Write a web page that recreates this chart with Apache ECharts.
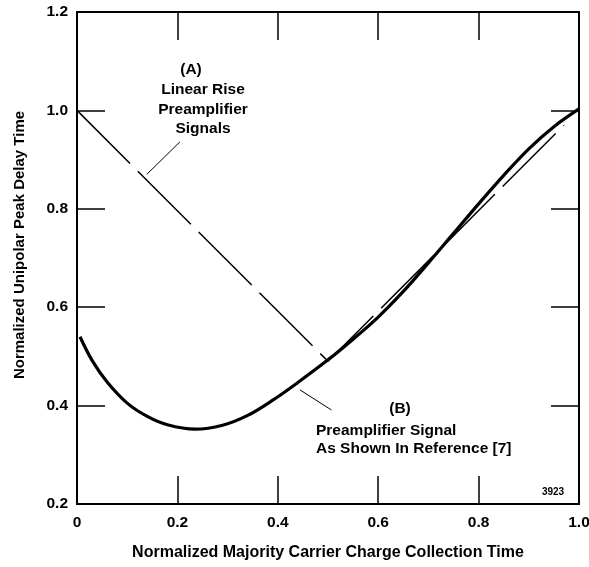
<!DOCTYPE html>
<html>
<head>
<meta charset="utf-8">
<script src="https://cdn.jsdelivr.net/npm/echarts@6/dist/echarts.min.js"></script>
<style>
  html, body { margin: 0; padding: 0; background: #fff; }
  #main { width: 589px; height: 567px; }
</style>
</head>
<body>
<div id="main"></div>
<script>
// tick values
var xTicks = [0, 0.2, 0.4, 0.6, 0.8, 1.0];
var yTicks = [0.2, 0.4, 0.6, 0.8, 1.0, 1.2];

// (A) linear rise preamplifier signals - dashed thin line
var curveA = [[0, 1.0], [0.5, 0.49], [0.97, 0.97]];

// (B) preamplifier signal as shown in reference [7] - thick curve
var curveB = [
  [0.006, 0.54], [0.03, 0.492], [0.06, 0.448], [0.1, 0.405], [0.14, 0.378],
  [0.18, 0.361], [0.235, 0.352], [0.29, 0.36], [0.34, 0.38], [0.39, 0.411],
  [0.44, 0.447], [0.5, 0.493], [0.55, 0.535], [0.6, 0.58], [0.65, 0.632],
  [0.7, 0.69], [0.75, 0.75], [0.8, 0.81], [0.85, 0.868], [0.9, 0.922],
  [0.95, 0.967], [1.0, 1.003]
];

// leader lines from the labels to the curves
var leaderA = [[0.205, 0.936], [0.139, 0.87]];
var leaderB = [[0.444, 0.432], [0.507, 0.391]];

var font = '"Liberation Sans", Arial, Helvetica, sans-serif';
var myChart = echarts.init(document.getElementById('main'));

var tickStyle = { show: true, inside: true, length: 28, lineStyle: { color: '#000', width: 1.5 } };
var lineStyle = { show: true, onZero: false, lineStyle: { color: '#000', width: 2 } };

myChart.setOption({
  animation: false,
  backgroundColor: '#fff',
  grid: { left: 77, right: 10, top: 12, bottom: 63, outerBoundsMode: 'none' },
  xAxis: [
    {
      type: 'value', min: 0, max: 1, interval: 0.2, position: 'bottom',
      axisLine: lineStyle, axisTick: tickStyle, splitLine: { show: false },
      axisLabel: {
        color: '#000', fontFamily: font, fontWeight: 'bold', fontSize: 15.5, margin: 11,
        formatter: function (v) { return v === 0 ? '0' : v.toFixed(1); }
      },
      name: 'Normalized Majority Carrier Charge Collection Time',
      nameLocation: 'middle', nameGap: 41,
      nameTextStyle: { color: '#000', fontFamily: font, fontWeight: 'bold', fontSize: 16 }
    },
    {
      type: 'value', min: 0, max: 1, interval: 0.2, position: 'top',
      axisLine: lineStyle, axisTick: tickStyle, splitLine: { show: false },
      axisLabel: { show: false }
    }
  ],
  yAxis: [
    {
      type: 'value', min: 0.2, max: 1.2, interval: 0.2, position: 'left',
      axisLine: lineStyle, axisTick: tickStyle, splitLine: { show: false },
      axisLabel: {
        color: '#000', fontFamily: font, fontWeight: 'bold', fontSize: 15.5, margin: 9,
        formatter: function (v) { return v.toFixed(1); }
      },
      name: 'Normalized Unipolar Peak Delay Time',
      nameLocation: 'middle', nameGap: 50,
      nameTextStyle: {
        color: '#000', fontFamily: font, fontWeight: 'bold', fontSize: 15,
        padding: [0, 0, 0, 26]
      }
    },
    {
      type: 'value', min: 0.2, max: 1.2, interval: 0.2, position: 'right',
      axisLine: lineStyle, axisTick: tickStyle, splitLine: { show: false },
      axisLabel: { show: false }
    }
  ],
  series: [
    {
      name: 'A', type: 'line', data: curveA, symbol: 'none',
      lineStyle: { color: '#000', width: 1.5, type: [75, 11] }
    },
    {
      name: 'B', type: 'line', data: curveB, symbol: 'none', smooth: 0.35,
      lineStyle: { color: '#000', width: 3.2 }
    },
    {
      name: 'leaderA', type: 'line', data: leaderA, symbol: 'none',
      lineStyle: { color: '#000', width: 1 }
    },
    {
      name: 'leaderB', type: 'line', data: leaderB, symbol: 'none',
      lineStyle: { color: '#000', width: 1 }
    }
  ],
  graphic: [
    {
      type: 'text', x: 191, y: 62,
      style: { text: '(A)', fill: '#000', font: 'bold 15.5px ' + font, align: 'center' }
    },
    {
      type: 'text', x: 203, y: 80,
      style: {
        text: 'Linear Rise\nPreamplifier\nSignals',
        fill: '#000', font: 'bold 15.5px ' + font, align: 'center', lineHeight: 19.5
      }
    },
    {
      type: 'text', x: 400, y: 401,
      style: { text: '(B)', fill: '#000', font: 'bold 15.5px ' + font, align: 'center' }
    },
    {
      type: 'text', x: 316, y: 421,
      style: {
        text: 'Preamplifier Signal\nAs Shown In Reference [7]',
        fill: '#000', font: 'bold 15.5px ' + font, align: 'left', lineHeight: 18.5
      }
    },
    {
      type: 'text', x: 553, y: 487,
      style: { text: '3923', fill: '#000', font: 'bold 10px ' + font, align: 'center' }
    }
  ]
});
</script>
</body>
</html>
